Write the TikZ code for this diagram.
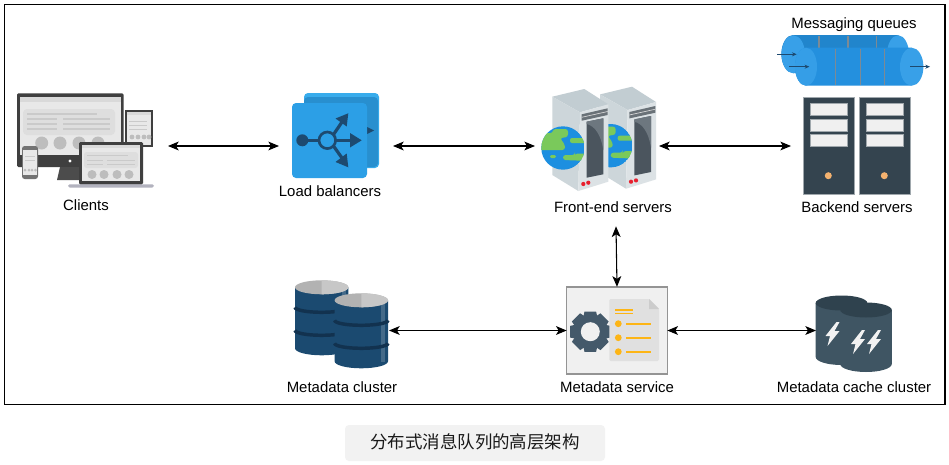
\documentclass[tikz,border=0pt]{standalone}
\usepackage{fontspec}
\setmainfont{Liberation Sans}
\newfontfamily\cjkfont{Noto Sans CJK SC}
\usetikzlibrary{arrows.meta}
\definecolor{lbblue}{HTML}{2C9FE6}
\definecolor{lbback}{HTML}{38ACEC}
\definecolor{lbdark}{HTML}{1D4A70}
\definecolor{qblue}{HTML}{2490DE}
\definecolor{qcap}{HTML}{38A0E8}
\definecolor{qtick}{HTML}{7D8A94}
\definecolor{dbblue}{HTML}{1B4A70}
\definecolor{dbband}{HTML}{12324F}
\definecolor{cachebody}{HTML}{3F5563}
\definecolor{cachetop}{HTML}{2F424E}
\definecolor{tower}{HTML}{34444F}
\definecolor{towerline}{HTML}{A0A8AD}
\definecolor{orangeline}{HTML}{FDB515}
\definecolor{gearc}{HTML}{44596A}
\definecolor{devdark}{HTML}{3F3F3F}
\definecolor{devlight}{HTML}{E8E8E8}
\definecolor{devpanel}{HTML}{DEDEDE}
\definecolor{devline}{HTML}{CACACA}
\definecolor{devdot}{HTML}{BDBDBD}
\definecolor{srvtop}{HTML}{C2CDD2}
\definecolor{srvleft}{HTML}{CDD6DA}
\definecolor{srvright}{HTML}{DCE2E5}
\definecolor{srvpanel}{HTML}{4B555E}
\definecolor{srvpanell}{HTML}{6D777F}
\definecolor{srvvent}{HTML}{6A7278}
\definecolor{srvred}{HTML}{E8202E}
\definecolor{globeb}{HTML}{1C8FE0}
\definecolor{globeg}{HTML}{7AC95B}
\definecolor{towerdot}{HTML}{F4B26F}
\tikzset{
  lbl/.style={font=\fontsize{11.2}{13}\selectfont,text=black,inner sep=0pt,anchor=base},
  slot/.style={rectangle,inner sep=0pt,outer sep=0pt},
  link/.style={draw=black,line width=0.8pt,{Stealth[length=8pt,width=6.6pt,inset=2pt]}-{Stealth[length=8pt,width=6.6pt,inset=2pt]}},
  qarrow/.style={draw=lbdark,line width=0.7pt,-{Stealth[length=3.5pt,width=3pt]}},
  devl/.style={draw=devline,line width=1pt},
}
\newcommand{\dbcyl}[2]{% cx, top y
  \begin{scope}[shift={(#1,#2)}]
    \fill[dbblue] (-26.7,0) -- (-26.7,61) arc[start angle=180,end angle=0,x radius=26.7,y radius=7] -- (26.7,0) -- cycle;
    \fill[white,opacity=.18] (20,4) rectangle (24,62);
    \foreach \yy in {20,43}{
      \draw[dbband,line width=2.6pt] (-26.7,\yy) arc[start angle=180,end angle=0,x radius=26.7,y radius=5];
    }
    \fill[black!30] (0,0) ellipse[x radius=26.7,y radius=7];
    \fill[black!22] (0,-7) arc[start angle=270,end angle=450,x radius=26.7,y radius=7] -- cycle;
  \end{scope}}
\newcommand{\cachecyl}[2]{% cx, top y
  \begin{scope}[shift={(#1,#2)}]
    \fill[cachebody] (-25.8,0) -- (-25.8,54) arc[start angle=180,end angle=0,x radius=25.8,y radius=8] -- (25.8,0) -- cycle;
    \fill[cachetop] (0,0) ellipse[x radius=25.8,y radius=7.5];
  \end{scope}}
\newcommand{\boltshape}[2]{% cx, cy
  \fill[white!95!black,shift={(#1,#2)}] (4,-12) -- (-7,2) -- (-2.5,2) -- (-5,12) -- (7,-3) -- (2,-3) -- (7,-12) -- cycle;}
\newcommand{\towerbox}[1]{% left x
  \begin{scope}[shift={(#1,0)}]
    \filldraw[fill=tower,draw=towerline,line width=.7pt] (0,97.3) rectangle (50.7,194);
    \foreach \yy in {103.3,119,134.3}{
      \filldraw[fill=black!6,draw=towerline,line width=.5pt] (6.7,\yy) rectangle (44,\yy+12);
    }
    \fill[towerdot] (25,175.7) circle[radius=3.5];
  \end{scope}}
\newcommand{\serverbox}{%
  \fill[srvtop] (552.3,96.7) -- (584.3,89) -- (608.3,104.3) -- (580,112.3) -- cycle;
  \fill[srvleft] (552.3,96.7) -- (580,112.3) -- (578.3,191) -- (552.3,175) -- cycle;
  \fill[srvright] (580,112.3) -- (608.3,104.3) -- (608.3,181.7) -- (578.3,191) -- cycle;
  \fill[srvvent] (581.7,114.3) -- (607.7,108.3) -- (607.7,115) -- (581.7,120.7) -- cycle;
  \draw[black!15,line width=.5pt] (581.7,117.3) -- (607.7,111.5);
  \fill[srvpanel] (586.7,121.7) -- (603.3,118.3) -- (603.3,174.3) -- (586.7,177.7) -- cycle;
  \fill[srvpanell] (586.7,121.7) -- (603.3,118.3) -- (603.3,150) .. controls (601,135) and (595,126) .. (586.7,124) -- cycle;
  \fill[srvred] (583.3,184) circle[radius=2.1];
  \fill[srvred] (588.3,182.7) circle[radius=2.1];}
\newcommand{\globeshape}{%
  \begin{scope}
    \clip (563,148) circle[radius=21.7];
    \fill[globeb] (563,148) circle[radius=21.7];
    \fill[globeg,rounded corners=2pt] (538,133) -- (553,133) -- (553,129) -- (568,129) -- (568,137) -- (560,138) -- (565,145) -- (565,150) -- (538,150) -- cycle;
    \fill[globeg,rounded corners=1.5pt] (570,138) rectangle (590,143);
    \fill[globeg,rounded corners=2pt] (563,155) -- (575,155) -- (575,153.5) -- (590,153.5) -- (590,161) -- (563,160) -- cycle;
    \fill[globeg,rounded corners=1pt] (550,155) rectangle (556,158);
  \end{scope}}
\begin{document}
\begin{tikzpicture}[x=0.75pt,y=-0.75pt]
\useasboundingbox (0,0) rectangle (949,464);
\fill[white] (0,0) rectangle (949,464);
\draw[black,line width=1pt] (4.5,4.5) rectangle (945,404.5);

% ---- anchor slots for connectors
\node[slot,minimum width=113.25pt,minimum height=72pt] (clients) at (92.5,146) {};
\node[slot,minimum width=85.5pt,minimum height=68pt] (lb) at (336,146) {};
\node[slot,minimum width=93pt,minimum height=120.5pt] (fe) at (597,146) {};
\node[slot,minimum width=90pt,minimum height=74pt] (be) at (851,146) {};
\node[slot,minimum width=70.5pt,minimum height=66pt] (mcluster) at (342,330.5) {};
\node[slot,minimum width=57pt,minimum height=60pt] (mcache) at (854,330.5) {};

% ---- Clients
\fill[devdark,rounded corners=1pt] (17,93.3) rectangle (123.5,167);
\fill[devlight] (20,97) rectangle (120.5,155);
\fill[black!15] (20,97) rectangle (120.5,102);
\fill[devpanel,rounded corners=3pt] (23,109) rectangle (115,135);
\draw[devl] (27,114) -- (97,114);
\draw[devl] (27,119) -- (57,119) (63,119) -- (110,119);
\draw[devl] (27,124) -- (57,124) (63,124) -- (110,124);
\draw[devl] (27,129) -- (57,129) (63,129) -- (110,129);
\foreach \xx in {41.7,60,79,98}{\fill[devdot] (\xx,143) circle[radius=6.5];}
\fill[white] (70,161) circle[radius=1.7];
\fill[black!70] (60,167) -- (80,167) -- (82,180) -- (57,180) -- cycle;
% tablet
\fill[devdark] (125,110) rectangle (153,147);
\fill[devlight] (127,112) rectangle (151,145);
\fill[black!15] (127,112) rectangle (151,115);
\draw[devl,line width=.7pt] (129,121) -- (147,121) (129,125) -- (147,125) (129,129) -- (147,129);
\foreach \xx in {132,138,144,149}{\fill[devdot] (\xx,137) circle[radius=2.4];}
% phone
\fill[black!55,rounded corners=2pt] (22,146) rectangle (38,179);
\fill[devlight] (23,150) rectangle (37,175);
\draw[devl,line width=.7pt] (25,156) -- (35,156) (25,160) -- (35,160);
\foreach \xx in {25,29,32,35.5}{\fill[devdot] (\xx,170) circle[radius=1.5];}
% laptop
\fill[devdark,rounded corners=1pt] (79,142) rectangle (143,184.5);
\fill[devlight] (82,145) rectangle (140,181);
\fill[black!15] (82,145) rectangle (140,148);
\fill[devpanel,rounded corners=2pt] (84,152) rectangle (138,168);
\draw[devl,line width=.7pt] (87,155.5) -- (128,155.5);
\draw[devl,line width=.7pt] (87,160) -- (103,160) (107,160) -- (135,160) (87,164) -- (103,164) (107,164) -- (135,164);
\foreach \xx in {92,104,117,129}{\fill[devdot] (\xx,174.5) circle[radius=4.5];}
\fill[blue!15!black!30,rounded corners=1.2pt] (68,184.3) rectangle (154,187.5);

% ---- Load balancer
\fill[lbback,rounded corners=3pt] (304,93) rectangle (379,168);
\fill[lbblue!90!black,rounded corners=3pt] (304,97) rectangle (378,167);
\fill[lbdark] (367,127) -- (374,130.5) -- (367,134) -- cycle;
\fill[lbblue,rounded corners=3pt] (292,103) rectangle (367,178);
\draw[lbdark,line width=2pt] (302.3,140.3) -- (319,140.3);
\fill[lbdark] (302.3,140.3) circle[radius=6];
\draw[lbdark,line width=2pt] (327.3,140.3) circle[radius=8.3];
\draw[lbdark,line width=2.4pt] (335.6,140.3) -- (352,140.3);
\fill[lbdark] (350,133) -- (361.7,140.3) -- (350,147.5) -- cycle;
\draw[lbdark,line width=2.4pt] (333.5,134.5) -- (342,122);
\fill[lbdark] (335.5,118.5) -- (348.3,113.3) -- (346.7,126.5) -- cycle;
\draw[lbdark,line width=2.4pt] (333.5,146) -- (342,158);
\fill[lbdark] (335.5,162) -- (348.3,167.3) -- (346.7,153.5) -- cycle;

% ---- Front-end servers
\begin{scope}[shift={(47.7,-2.3)}]
  \serverbox
  \globeshape
\end{scope}
\serverbox
\globeshape

% ---- Messaging queues
\fill[qblue!92!black] (793,35) -- (896,35) arc[start angle=270,end angle=450,x radius=12,y radius=19] -- (793,73) arc[start angle=90,end angle=270,x radius=11.7,y radius=19] -- cycle;
\fill[qcap] (793.3,54.3) ellipse[x radius=11.7,y radius=19];
\fill[qcap] (898,54.3) ellipse[x radius=11,y radius=19];
\foreach \xx in {819,848,876.7}{\draw[qtick,line width=.8pt] (\xx,36) -- (\xx,48);}
\fill[qblue] (806,47.7) -- (911.7,47.7) -- (911.7,85.7) -- (806,85.7) arc[start angle=90,end angle=270,x radius=11,y radius=19] -- cycle;
\fill[qcap!85!qblue] (806,66.7) ellipse[x radius=11,y radius=19];
\fill[qcap] (911.7,66.7) ellipse[x radius=11.7,y radius=19];
\foreach \xx in {835.7,860.3,884.3}{\draw[qtick,line width=.8pt] (\xx,48.5) -- (\xx,85);}
\coordinate (q1a) at (777.3,54.3); \coordinate (q1b) at (796.7,54.3);
\coordinate (q2a) at (789.3,66.7); \coordinate (q2b) at (809.3,66.7);
\coordinate (q3a) at (910,66.7); \coordinate (q3b) at (930,66.7);
\draw[qarrow] (q1a) -- (q1b);
\draw[qarrow] (q2a) -- (q2b);
\draw[qarrow] (q3a) -- (q3b);

% ---- Backend servers
\towerbox{803.3}
\towerbox{859.3}

% ---- Metadata cluster
\dbcyl{321.7}{287.3}
\dbcyl{361.3}{300.3}

% ---- Metadata service
\node[slot,draw=black!42,fill=black!6,line width=1.1pt,minimum width=75.5pt,minimum height=65.5pt] (msvc) at (617,330.5) {};
\foreach \aa in {0,45,...,315}{
  \fill[gearc,rotate around={\aa:(590.3,331.7)}] (584.5,311.5) -- (596.1,311.5) -- (597.5,318) -- (583.1,318) -- cycle;
}
\fill[gearc] (590.3,331.7) circle[radius=16.5];
\fill[black!6] (590.3,331.7) circle[radius=9.5];
\fill[black!12,rounded corners=1pt] (609.3,299) -- (649,299) -- (659,309) -- (659,361) -- (609.3,361) -- cycle;
\fill[black!20] (649,299) -- (659,309) -- (649,309) -- cycle;
\draw[orangeline,line width=1pt] (615,310) -- (633.3,310) (615,313.7) -- (633.3,313.7);
\foreach \yy in {323.7,337.7,351.7}{
  \fill[orangeline] (618.3,\yy) circle[radius=3.4];
  \draw[orangeline,line width=1.2pt] (626,\yy) -- (651,\yy);
}

% ---- Metadata cache cluster
\cachecyl{841.5}{303}
\cachecyl{866}{310}
\boltshape{832.5}{334}
\boltshape{858}{342}
\boltshape{874}{342}

% ---- Labels
\node[lbl] (tclients) at (86,210) {Clients};
\node[lbl] (tlb) at (330,196) {Load balancers};
\node[lbl] (tfe) at (613,212) {Front-end servers};
\node[lbl] (tbe) at (857,212) {Backend servers};
\node[lbl] (tq) at (854,28) {Messaging queues};
\node[lbl] (tmc) at (342,392) {Metadata cluster};
\node[lbl] (tms) at (617,392) {Metadata service};
\node[lbl] (tmcc) at (854,392) {Metadata cache cluster};

% ---- Caption
\node[slot,fill=black!5,rounded corners=3pt,minimum width=195pt,minimum height=27pt] (capbox) at (475,443) {};
\node[inner sep=0pt,font=\fontsize{13.1}{15}\cjkfont,text=black!90] (cap) at (475,442) {分布式消息队列的高层架构};

% ---- Connectors
\draw[link] (clients.east) -- (lb.west);
\draw[link] (lb.east) -- (fe.west);
\draw[link] (fe.east) -- (be.west);
\draw[link] ([xshift=14.25pt]fe.south) -- (msvc.north);
\draw[link] (mcluster.east) -- (msvc.west);
\draw[link] (msvc.east) -- (mcache.west);
\end{tikzpicture}
\end{document}
